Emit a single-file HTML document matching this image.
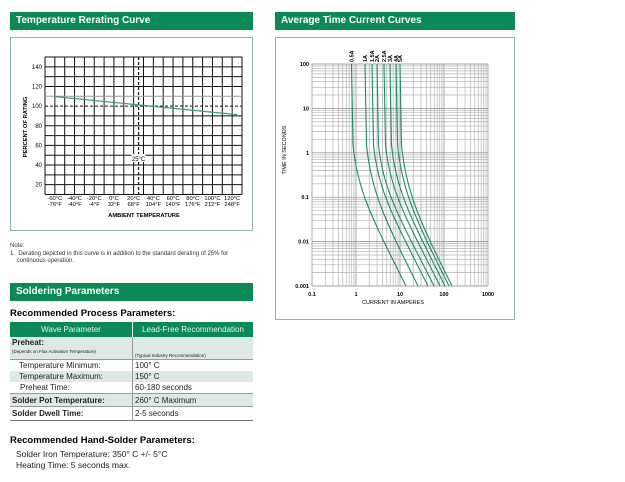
<!DOCTYPE html>
<html><head><meta charset="utf-8"><style>
body{margin:0;width:625px;height:482px;background:#fff;font-family:"Liberation Sans",sans-serif;position:relative;overflow:hidden}
.hd{position:absolute;background:#0b8a55;color:#fff;font-weight:bold;font-size:10px;line-height:18px;padding-left:6px;box-sizing:border-box}
.t{position:absolute;white-space:nowrap}
</style></head><body>
<div class="hd" style="left:10px;top:12px;width:243px;height:18px">Temperature Rerating Curve</div>
<div class="hd" style="left:275px;top:12px;width:240px;height:18px">Average Time Current Curves</div>
<div style="position:absolute;left:10px;top:37px;width:241px;height:192px;border:1px solid #8fb8aa"></div>
<div style="position:absolute;left:275px;top:37px;width:238px;height:281px;border:1px solid #8fb8aa"></div>
<svg id="s" width="625" height="482" style="position:absolute;left:0;top:0" font-family="Liberation Sans, sans-serif"></svg>
<div class="t" style="left:10px;top:243px;font-size:6px;color:#333">Note:</div>
<div class="t" style="left:10px;top:251px;font-size:6px;color:#333;line-height:7px">1.&nbsp; Derating depicted in this curve is in addition to the standard derating of 25% for<br>&nbsp;&nbsp;&nbsp;&nbsp;continuous operation.</div>
<div class="hd" style="left:10px;top:283px;width:243px;height:18px">Soldering Parameters</div>
<div class="t" style="left:10px;top:308px;font-size:9.5px;font-weight:bold">Recommended Process Parameters:</div>
<div style="position:absolute;left:10px;top:322px;width:243px;font-size:8px;color:#222">
<table style="border-collapse:collapse;width:243px;font-size:8px">
<tr style="background:#0b8a55;color:#e8f3ee;height:15px"><td style="width:120px;text-align:center;border-right:1px solid #fff">Wave Parameter</td><td style="text-align:center">Lead-Free Recommendation</td></tr>
<tr style="background:#dde9e4;height:22px;border-bottom:1px solid #999"><td style="border-right:1px solid #999;line-height:8px;padding-left:2px"><b>Preheat:</b><br><span style="font-size:4.5px">(Depends on Flux Activation Temperature)</span></td><td style="font-size:4.5px;padding-left:2px;vertical-align:bottom">(Typical Industry Recommendation)</td></tr>
<tr style="height:11px"><td style="border-right:1px solid #999;padding-left:9px">Temperature Minimum:</td><td style="padding-left:2px">100° C</td></tr>
<tr style="height:11px;background:#dde9e4"><td style="border-right:1px solid #999;padding-left:9px">Temperature Maximum:</td><td style="padding-left:2px">150° C</td></tr>
<tr style="height:12px;border-bottom:1px solid #999"><td style="border-right:1px solid #999;padding-left:10px">Preheat Time:</td><td style="padding-left:2px">60-180 seconds</td></tr>
<tr style="height:13px;background:#dde9e4;border-bottom:1px solid #999"><td style="border-right:1px solid #999;padding-left:2px"><b>Solder Pot Temperature:</b></td><td style="padding-left:2px">260° C Maximum</td></tr>
<tr style="height:14px;border-bottom:1px solid #777"><td style="border-right:1px solid #999;padding-left:2px"><b>Solder Dwell Time:</b></td><td style="padding-left:2px">2-5 seconds</td></tr>
</table></div>
<div class="t" style="left:10px;top:435px;font-size:9.5px;font-weight:bold">Recommended Hand-Solder Parameters:</div>
<div class="t" style="left:16px;top:449px;font-size:8.5px;line-height:11px;color:#222">Solder Iron Temperature: 350° C +/- 5°C<br>Heating Time: 5 seconds max.</div>
<script>
var s='';
var x0=45,x1=242,y0=57,y1=194.5,cw=(x1-x0)/20,rh=(y1-y0)/14;
for(var i=0;i<=20;i++){var x=x0+i*cw;s+='<line x1="'+x+'" y1="'+y0+'" x2="'+x+'" y2="'+y1+'" stroke="#111" stroke-width="1"/>';}
for(var j=0;j<=14;j++){var y=y0+j*rh;if(j==5)continue;s+='<line x1="'+x0+'" y1="'+y+'" x2="'+x1+'" y2="'+y+'" stroke="'+(j==4?'#999':'#111')+'" stroke-width="1"/>';}
var y100=y0+5*rh;
s+='<line x1="'+x0+'" y1="'+y100+'" x2="'+x1+'" y2="'+y100+'" stroke="#111" stroke-dasharray="3,2"/>';
var xd=x0+9.5*cw;
s+='<line x1="'+xd+'" y1="'+y0+'" x2="'+xd+'" y2="'+y1+'" stroke="#111" stroke-width="1.2" stroke-dasharray="3,2"/>';
s+='<rect x="'+(xd-7)+'" y="154" width="14" height="8" fill="#fff"/><text x="'+xd+'" y="161" font-size="6" text-anchor="middle">25°C</text>';
s+='<line x1="'+(x0+cw)+'" y1="'+(y100-9.5)+'" x2="'+(x0+19.5*cw)+'" y2="'+(y100+8.5)+'" stroke="#3a9a7a" stroke-width="1.2"/>';
for(var k=14;k>=2;k-=2){var y=y0+(15-k)*rh;s+='<text x="'+(x0-3)+'" y="'+(y+2)+'" font-size="6" text-anchor="end">'+(k*10)+'</text>';}
var c=['-60°C','-40°C','-20°C','0°C','20°C','40°C','60°C','80°C','100°C','120°C'],f=['-76°F','-40°F','-4°F','32°F','68°F','104°F','140°F','176°F','212°F','248°F'];
for(var i=0;i<10;i++){var x=x0+(2*i+1)*cw;s+='<text x="'+x+'" y="200" font-size="5.8" text-anchor="middle">'+c[i]+'</text><text x="'+x+'" y="206" font-size="5.8" text-anchor="middle">'+f[i]+'</text>';}
s+='<text x="144" y="217" font-size="5.8" font-weight="bold" text-anchor="middle">AMBIENT TEMPERATURE</text>';
s+='<text transform="translate(27,127) rotate(-90)" font-size="5.8" font-weight="bold" text-anchor="middle">PERCENT OF RATING</text>';
function X(I){return 312+44*(Math.log10(I)+1);}function Y(t){return 64+44.4*(2-Math.log10(t));}
for(var d=-1;d<3;d++)for(var m=1;m<10;m++){var x=X(m*Math.pow(10,d));s+='<line x1="'+x+'" y1="64" x2="'+x+'" y2="286" stroke="'+(m==1?'#888':'#b4b4b4')+'" stroke-width="0.7"/>';}
s+='<line x1="488" y1="64" x2="488" y2="286" stroke="#888" stroke-width="0.7"/>';
for(var d=-3;d<2;d++)for(var m=1;m<10;m++){var y=Y(m*Math.pow(10,d));s+='<line x1="312" y1="'+y+'" x2="488" y2="'+y+'" stroke="'+(m==1?'#888':'#b4b4b4')+'" stroke-width="0.7"/>';}
s+='<line x1="312" y1="64" x2="488" y2="64" stroke="#888" stroke-width="0.7"/>';
var yl=['100','10','1','0.1','0.01','0.001'];
for(var i=0;i<6;i++)s+='<text x="309" y="'+(64+44.4*i+2)+'" font-size="5.5" font-weight="bold" text-anchor="end">'+yl[i]+'</text>';
var xl=['0.1','1','10','100','1000'];
for(var i=0;i<5;i++)s+='<text x="'+(312+44*i)+'" y="296" font-size="5.5" font-weight="bold" text-anchor="middle">'+xl[i]+'</text>';
s+='<text x="393" y="304" font-size="5.5" text-anchor="middle">CURRENT IN AMPERES</text>';
s+='<text transform="translate(286,150) rotate(-90)" font-size="5.5" text-anchor="middle">TIME IN SECONDS</text>';
var tops=[351.5,365,372,377,384,390,396,400],ends=[406,418,428,434,440,445,449,452],lab=['0.5A','1A','1.5A','2A','2.5A','3A','4A','5A'];
for(var i=0;i<8;i++){var a=tops[i],e=ends[i];
s+='<path d="M'+a+' 64 L'+(a+1.5)+' 145 C'+(a+6)+' 192,'+(e-32)+' 222,'+e+' 286" fill="none" stroke="#1f8a6a" stroke-width="1.1"/>';
s+='<text transform="translate('+(a+2)+',62) rotate(-90)" font-size="5.5" font-weight="bold">'+lab[i]+'</text>';}
document.getElementById('s').innerHTML=s;
</script>
</body></html>
